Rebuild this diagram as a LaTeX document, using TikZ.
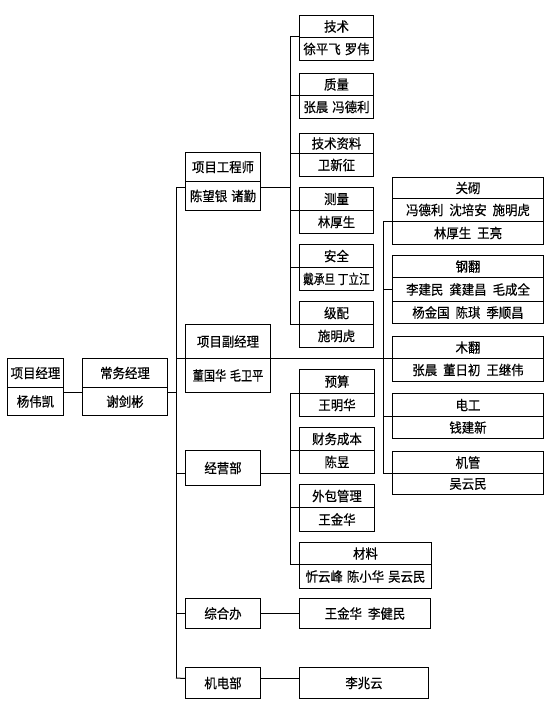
\documentclass[tikz,border=0pt]{standalone}
\usepackage{fontspec}
\usepackage{graphicx}
\newfontfamily\cjk[FakeBold=0.5,FakeStretch=0.92]{Noto Sans CJK SC}
\newcommand\gp{\hspace{6pt}}
\tikzset{
  cell/.style={draw, line width=1pt, inner sep=0pt, anchor=north west,
    font=\cjk\fontsize{13.5}{13.5}\selectfont, align=center},
  link/.style={line width=1pt}
}
\newcommand\mycell[6]{\node[cell, minimum width=#4pt, minimum height=#5pt] (#1) at (#2,#3) {#6};}
\begin{document}
\begin{tikzpicture}[x=1pt,y=-1pt]
\useasboundingbox (0,0) rectangle (554,709);
% left chain
\mycell{pmA}{7}{358}{56}{29}{项目经理}
\mycell{pmB}{7}{387}{56}{28}{杨伟凯}
\mycell{cwA}{82}{358}{85}{29}{常务经理}
\mycell{cwB}{82}{387}{85}{28}{谢剑彬}
% second level
\mycell{engA}{185}{152}{75}{29}{项目工程师}
\mycell{engB}{185}{181}{75}{29}{陈望银\hspace{4pt}诸勤}
\mycell{depA}{185}{324}{85}{34}{项目副经理}
\mycell{depB}{185}{358}{85}{34}{\scalebox{0.9}[1]{董国华\hspace{4pt}毛卫平}}
\mycell{dept}{185}{450}{75}{35}{经营部}
\mycell{zhb}{185}{598}{75}{30}{综合办}
\mycell{jdb}{185}{667}{75}{31}{机电部}
% engineer group
\mycell{jsA}{299}{15}{74}{22}{技术}
\mycell{jsB}{299}{37}{74}{23}{徐平飞\hspace{4pt}罗伟}
\mycell{zlA}{299}{73}{74}{22}{质量}
\mycell{zlB}{299}{95}{74}{23}{张晨\hspace{4pt}冯德利}
\mycell{jzA}{299}{133}{74}{20}{技术资料}
\mycell{jzB}{299}{153}{74}{23}{卫新征}
\mycell{celA}{299}{187}{74}{23}{测量}
\mycell{celB}{299}{210}{74}{23}{林厚生}
\mycell{aqA}{299}{244}{74}{23}{安全}
\mycell{aqB}{299}{267}{74}{23}{\scalebox{0.86}[1]{戴承旦\hspace{3pt}丁立江}}
\mycell{jpA}{299}{301}{74}{23}{级配}
\mycell{jpB}{299}{324}{74}{23}{施明虎}
% trades group
\mycell{gqA}{392}{177}{151}{21}{关砌}
\mycell{gqB}{392}{198}{151}{23}{冯德利\gp 沈培安\gp 施明虎}
\mycell{gqC}{392}{221}{151}{23}{林厚生\gp 王亮}
\mycell{gfA}{392}{255}{151}{22}{钢翻}
\mycell{gfB}{392}{277}{151}{24}{李建民\gp 龚建昌\gp 毛成全}
\mycell{gfC}{392}{301}{151}{22}{杨金国\gp 陈琪\gp 季顺昌}
\mycell{mfA}{392}{336}{151}{22}{木翻}
\mycell{mfB}{392}{358}{151}{23}{张晨\gp 董日初\gp 王继伟}
\mycell{dgA}{392}{393}{151}{23}{电工}
\mycell{dgB}{392}{416}{151}{22}{钱建新}
\mycell{jgA}{392}{451}{151}{22}{机管}
\mycell{jgB}{392}{473}{151}{21}{吴云民}
% business group
\mycell{ysA}{299}{369}{75}{24}{预算}
\mycell{ysB}{299}{393}{75}{23}{王明华}
\mycell{cbA}{299}{427}{75}{23}{财务成本}
\mycell{cbB}{299}{450}{75}{23}{陈昱}
\mycell{wbA}{299}{484}{75}{23}{外包管理}
\mycell{wbB}{299}{507}{75}{24}{王金华}
\mycell{caiA}{299}{542}{132}{22}{材料}
\mycell{caiB}{299}{564}{132}{24}{忻云峰\hspace{4pt}陈小华\hspace{4pt}吴云民}
\mycell{zhR}{299}{598}{131}{30}{王金华\gp 李健民}
\mycell{jdR}{299}{667}{129}{31}{李兆云}
% connectors
\coordinate (mvT) at (176,187);
\coordinate (mvB) at (176,678);
\draw[link] (mvT) -- (mvB);
\draw[link] (mvT) -- (engB.west |- mvT);
\draw[link] ([yshift=9pt]pmB.east) -- ([yshift=9pt]cwB.west);
\coordinate (j0) at ([yshift=9pt]cwB.east);
\draw[link] (j0) -- (mvT |- j0);
% engineer branch
\coordinate (tvT) at (290,37);
\draw[link] (engB.east |- mvT) -- (tvT |- mvT);
\draw[link] (tvT) -- (tvT |- jpB.north west);
\foreach \b in {jsB,zlB,jzB,celB,aqB,jpB} {
  \draw[link] (tvT |- \b.north west) -- (\b.north west);
}
% deputy branch
\draw[link] (mvT |- depB.north west) -- (mfB.north west);
\coordinate (rvT) at (383,221);
\draw[link] (rvT) -- (rvT |- jgB.north west);
\draw[link] (rvT) -- (gqC.north west);
\draw[link] (rvT |- gfB.west) -- (gfB.west);
\draw[link] (rvT |- dgB.north west) -- (dgB.north west);
\draw[link] (rvT |- jgB.north west) -- (jgB.north west);
% business branch
\coordinate (j1) at ([yshift=-5.5pt]dept.west);
\coordinate (j1e) at ([yshift=-5.5pt]dept.east);
\coordinate (bvT) at (290,393);
\draw[link] (mvT |- j1) -- (j1);
\draw[link] (j1e) -- (bvT |- j1e);
\draw[link] (bvT) -- (bvT |- caiB.north west);
\foreach \b in {ysB,cbB,wbB,caiB} {
  \draw[link] (bvT |- \b.north west) -- (\b.north west);
}
% office
\draw[link] (mvT |- zhb.west) -- (zhb.west);
\draw[link] (zhb.east) -- (zhR.west);
% electromechanical
\coordinate (j2) at ([yshift=4.5pt]jdb.west);
\draw[link] (mvB) -- (j2);
\draw[link] ([yshift=4.5pt]jdb.east) -- ([yshift=4.5pt]jdR.west);
\end{tikzpicture}
\end{document}
